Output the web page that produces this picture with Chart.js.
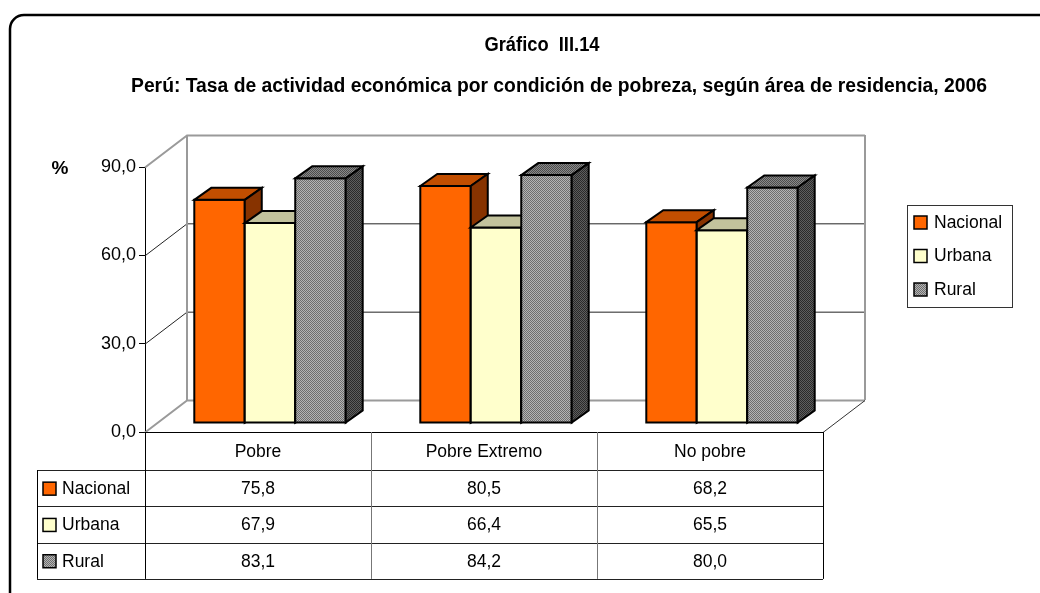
<!DOCTYPE html>
<html><head><meta charset="utf-8">
<script src="https://cdn.jsdelivr.net/npm/chart.js@4/dist/chart.umd.min.js"></script>
<style>html,body{margin:0;padding:0;background:#fff;}canvas{display:block;}</style>
</head><body>
<canvas id="c" width="1040" height="593"></canvas>
<script>
// ---- data ----
const categories = ['Pobre', 'Pobre Extremo', 'No pobre'];
const seriesNames = ['Nacional', 'Urbana', 'Rural'];
const nacional = [75.8, 80.5, 68.2];
const urbana = [67.9, 66.4, 65.5];
const rural = [83.1, 84.2, 80.0];
const yTickValues = [0, 30, 60, 90];
const titleText = 'Gráfico  III.14';
const subtitleText = 'Perú: Tasa de actividad económica por condición de pobreza, según área de residencia, 2006';
const unitLabel = '%';

// ---- styles ----
const FONT = "'Liberation Sans', Arial, sans-serif";
const canvas = document.getElementById('c');
const cctx = canvas.getContext('2d');
function checker(a, b) {
  const c = document.createElement('canvas'); c.width = 2; c.height = 2;
  const x = c.getContext('2d');
  x.fillStyle = a; x.fillRect(0, 0, 2, 2);
  x.fillStyle = b; x.fillRect(0, 0, 1, 1); x.fillRect(1, 1, 1, 1);
  return cctx.createPattern(c, 'repeat');
}
const faceStyles = [
  { front: '#FF6600', top: '#C24E00', side: '#873300' },
  { front: '#FFFFCC', top: '#C2C29C', side: '#9A9A78' },
  { front: checker('#B4B4B4', '#6E6E6E'), top: checker('#8A8A8A', '#4C4C4C'), side: checker('#5E5E5E', '#2A2A2A') }
];
const fmt = v => v.toFixed(1).replace('.', ',');
const WALL = { dx: 42, dy: -32 };
const BAR_SHIFT = { dx: 12, dy: -9 };
const BAR_DEPTH = { dx: 17, dy: -12 };

function fitText(ctx, text, cx, cy, font, targetW) {
  ctx.save();
  ctx.font = font;
  const w = ctx.measureText(text).width;
  const sx = targetW / w;
  ctx.translate(cx, cy);
  ctx.scale(sx, 1);
  ctx.textAlign = 'center'; ctx.textBaseline = 'middle';
  ctx.fillText(text, 0, 0);
  ctx.restore();
}

const scenePlugin = {
  id: 'scene',
  beforeDatasetsDraw(chart) {
    const ctx = chart.ctx, a = chart.chartArea, ys = chart.scales.y;
    const L = a.left, R = a.right, B = a.bottom;
    ctx.save();
    yTickValues.forEach(v => {
      const py = ys.getPixelForValue(v);
      const edge = (v === yTickValues[0] || v === yTickValues[yTickValues.length - 1]);
      ctx.strokeStyle = edge ? '#9a9a9a' : '#222';
      ctx.lineWidth = edge ? 2 : 1;
      ctx.beginPath();
      ctx.moveTo(L, py + 0.5);
      ctx.lineTo(L + WALL.dx, py + WALL.dy + 0.5);
      ctx.lineTo(R + WALL.dx, py + WALL.dy + 0.5);
      ctx.stroke();
    });
    const topY = ys.getPixelForValue(yTickValues[yTickValues.length - 1]);
    ctx.strokeStyle = '#9a9a9a'; ctx.lineWidth = 2;
    ctx.beginPath();
    ctx.moveTo(L + WALL.dx, topY + WALL.dy); ctx.lineTo(L + WALL.dx, B + WALL.dy);
    ctx.moveTo(R + WALL.dx, topY + WALL.dy); ctx.lineTo(R + WALL.dx, B + WALL.dy);
    ctx.stroke();
    ctx.strokeStyle = '#333'; ctx.lineWidth = 1;
    ctx.beginPath();
    ctx.moveTo(R, B + 0.5); ctx.lineTo(R + WALL.dx, B + WALL.dy + 0.5);
    ctx.stroke();

    ctx.lineWidth = 2; ctx.strokeStyle = '#000'; ctx.lineJoin = 'miter';
    const n = chart.data.labels.length;
    for (let j = 0; j < n; j++) {
      chart.data.datasets.forEach((ds, i) => {
        const el = chart.getDatasetMeta(i).data[j];
        const st = faceStyles[i];
        const l = el.x - el.width / 2 + BAR_SHIFT.dx, r = el.x + el.width / 2 + BAR_SHIFT.dx;
        const t = el.y + BAR_SHIFT.dy, b = el.base + BAR_SHIFT.dy;
        const dx = BAR_DEPTH.dx, dy = BAR_DEPTH.dy;
        ctx.fillStyle = st.front;
        ctx.beginPath(); ctx.rect(l, t, r - l, b - t); ctx.fill(); ctx.stroke();
        ctx.fillStyle = st.top;
        ctx.beginPath(); ctx.moveTo(l, t); ctx.lineTo(l + dx, t + dy); ctx.lineTo(r + dx, t + dy); ctx.lineTo(r, t); ctx.closePath(); ctx.fill(); ctx.stroke();
        ctx.fillStyle = st.side;
        ctx.beginPath(); ctx.moveTo(r, t); ctx.lineTo(r + dx, t + dy); ctx.lineTo(r + dx, b + dy); ctx.lineTo(r, b); ctx.closePath(); ctx.fill(); ctx.stroke();
      });
    }
    ctx.restore();
    return false;
  },
  afterDraw(chart) {
    const ctx = chart.ctx, a = chart.chartArea, xs = chart.scales.x;
    ctx.save();
    ctx.strokeStyle = '#000'; ctx.lineWidth = 2.5;
    ctx.beginPath();
    ctx.moveTo(10, 620); ctx.lineTo(10, 29); ctx.arcTo(10, 15, 24, 15, 14); ctx.lineTo(1060, 15);
    ctx.stroke();
    ctx.fillStyle = '#000';
    fitText(ctx, titleText, 542, 45, 'bold 20px ' + FONT, 115);
    fitText(ctx, subtitleText, 559, 86, 'bold 20px ' + FONT, 856);
    ctx.textAlign = 'center'; ctx.textBaseline = 'middle';
    ctx.font = 'bold 19px ' + FONT;
    ctx.fillText(unitLabel, 60, 169);

    const step = xs.getPixelForValue(1) - xs.getPixelForValue(0);
    const colEdges = chart.data.labels.map((_, i) => xs.getPixelForValue(i) - step / 2);
    colEdges.push(xs.getPixelForValue(chart.data.labels.length - 1) + step / 2);
    const headTop = a.bottom, headBot = a.bottom + 38, rowH = 36.3, legL = 37;
    const rowTops = chart.data.datasets.map((_, i) => headBot + i * rowH);
    const tableBot = headBot + chart.data.datasets.length * rowH;
    const px = v => Math.round(v) + 0.5;
    ctx.lineWidth = 1;
    ctx.strokeStyle = '#000';
    ctx.beginPath(); ctx.moveTo(colEdges[0], px(headTop)); ctx.lineTo(colEdges[colEdges.length - 1], px(headTop)); ctx.stroke();
    ctx.strokeStyle = '#222';
    [...rowTops, tableBot].forEach(y => { ctx.beginPath(); ctx.moveTo(legL, px(y)); ctx.lineTo(colEdges[colEdges.length - 1], px(y)); ctx.stroke(); });
    colEdges.forEach((x, k) => {
      ctx.strokeStyle = (k === 0 || k === colEdges.length - 1) ? '#000' : '#777';
      ctx.beginPath(); ctx.moveTo(px(x), headTop); ctx.lineTo(px(x), tableBot); ctx.stroke();
    });
    ctx.strokeStyle = '#000';
    ctx.beginPath(); ctx.moveTo(px(legL), headBot); ctx.lineTo(px(legL), tableBot); ctx.stroke();
    ctx.font = '17.5px ' + FONT; ctx.textAlign = 'center'; ctx.textBaseline = 'middle';
    chart.data.labels.forEach((lab, i) => ctx.fillText(lab, xs.getPixelForValue(i), (headTop + headBot) / 2 + 1));
    chart.data.datasets.forEach((ds, i) => {
      const cy = rowTops[i] + rowH / 2 + 1;
      ctx.fillStyle = faceStyles[i].front; ctx.strokeStyle = '#000'; ctx.lineWidth = 1.5;
      ctx.fillRect(43, cy - 7, 13, 13); ctx.strokeRect(43, cy - 7, 13, 13);
      ctx.fillStyle = '#000'; ctx.textAlign = 'left';
      ctx.fillText(ds.label, 62, cy);
      ctx.textAlign = 'center';
      ds.data.forEach((v, j) => ctx.fillText(fmt(v), xs.getPixelForValue(j), cy));
    });
    ctx.strokeStyle = '#333'; ctx.lineWidth = 1;
    ctx.strokeRect(907.5, 205.5, 105, 102);
    chart.data.datasets.forEach((ds, i) => {
      const cy = 223 + i * 33.5;
      ctx.fillStyle = faceStyles[i].front; ctx.strokeStyle = '#000'; ctx.lineWidth = 1.5;
      ctx.fillRect(914, cy - 7, 13, 13); ctx.strokeRect(914, cy - 7, 13, 13);
      ctx.fillStyle = '#000'; ctx.textAlign = 'left';
      ctx.fillText(ds.label, 934, cy);
    });
    ctx.restore();
  }
};

new Chart(canvas, {
  type: 'bar',
  data: {
    labels: categories,
    datasets: [
      { label: seriesNames[0], data: nacional, backgroundColor: '#FF6600' },
      { label: seriesNames[1], data: urbana, backgroundColor: '#FFFFCC' },
      { label: seriesNames[2], data: rural, backgroundColor: '#8C8C8C' }
    ]
  },
  options: {
    responsive: false,
    animation: false,
    layout: { padding: { left: 0, top: 167, right: 217, bottom: 161 } },
    datasets: { bar: { categoryPercentage: 0.67, barPercentage: 1.0 } },
    plugins: { legend: { display: false }, tooltip: { enabled: false } },
    scales: {
      x: { display: false },
      y: {
        min: 0, max: 90,
        afterFit: s => { s.width = 145; },
        afterBuildTicks: s => { s.ticks = yTickValues.map(v => ({ value: v })); },
        grid: { drawOnChartArea: false, drawTicks: true, tickLength: 6, color: '#000' },
        border: { display: true, color: '#000', width: 1 },
        ticks: { color: '#000', padding: 3, font: { family: FONT, size: 18 }, callback: v => fmt(v) }
      }
    }
  },
  plugins: [scenePlugin]
});
</script>
</body></html>
